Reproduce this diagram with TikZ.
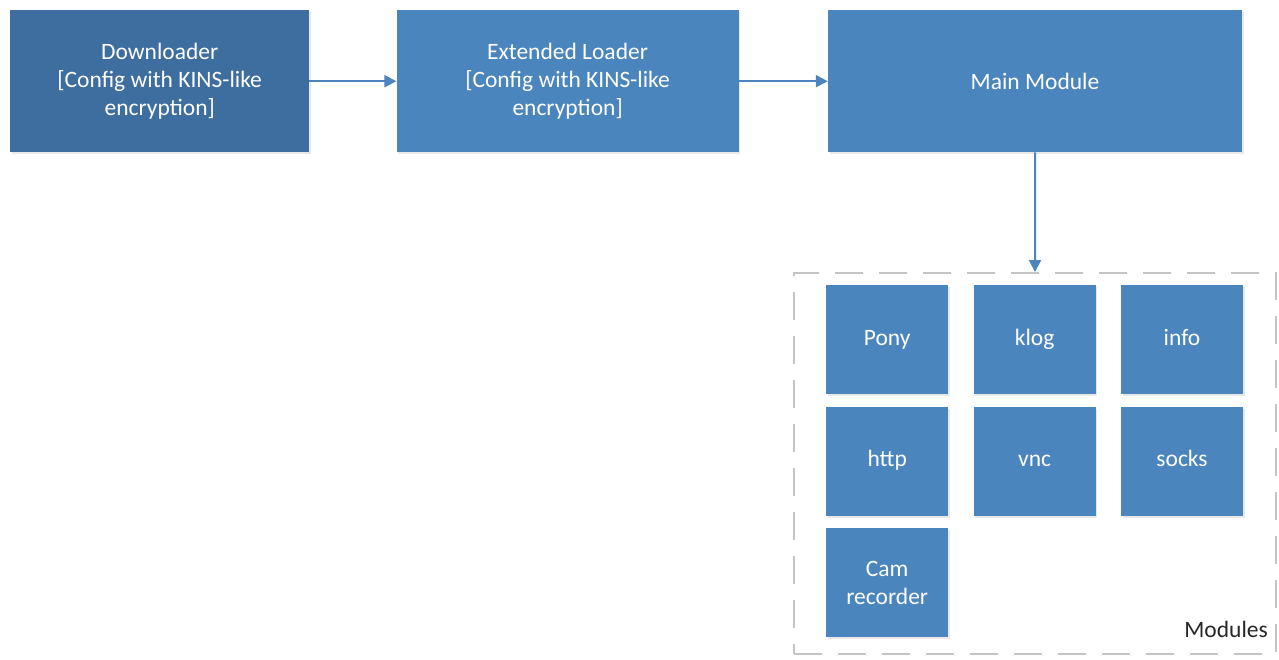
\documentclass[tikz,border=0pt]{standalone}
\usepackage{fontspec}
\setmainfont{Carlito}
\usepackage{xcolor}
\usetikzlibrary{positioning, arrows.meta, shadows, calc}
\definecolor{stageblue}{HTML}{4A85BD}
\definecolor{stagedark}{HTML}{3E6D9F}
\definecolor{framegray}{HTML}{C4C4C4}

\begin{document}
\begin{tikzpicture}[
    x=1pt, y=-1pt,
    node distance=88pt,
    >={Triangle[length=12pt,width=12pt]},
    stage/.style={rectangle, fill=stageblue, text=white, align=center, inner sep=0pt,
        minimum height=142pt, font=\fontsize{23.5}{28}\selectfont,
        drop shadow={opacity=0.18, shadow xshift=1.5pt, shadow yshift=-2pt}},
    module/.style={stage, minimum width=122pt, minimum height=109pt},
    oneline/.style={text height=13pt, text depth=2pt},
    link/.style={->, draw=stageblue, line width=2pt}
]
    \useasboundingbox (0,0) rectangle (1279,659);

    % --- top row of stages ---
    \node (downloader) [stage, fill=stagedark, minimum width=299pt, anchor=north west] at (10,10)
        {Downloader\\{[}Config with KINS-like\\encryption{]}};
    \node (extloader) [stage, minimum width=342pt, right=87pt of downloader]
        {Extended Loader\\{[}Config with KINS-like\\encryption{]}};
    \node (mainmod) [stage, minimum width=414pt, right=89pt of extloader] {Main Module};

    % --- modules container ---
    \node (modframe) [draw=framegray, line width=2pt, dash pattern=on 28pt off 16pt,
        minimum width=482pt, minimum height=381pt, inner sep=0pt, anchor=north west] at (793,272) {};
    \node (modlabel) [anchor=base east, inner sep=0pt, text=black!85, font=\fontsize{23.5}{28}\selectfont]
        at ($(modframe.south east)+(-9,-18)$) {Modules};

    % --- module grid ---
    \node (pony) [module, oneline, anchor=north west] at (826,285) {Pony};
    \node (klog) [module, oneline, right=25pt of pony] {klog};
    \node (info) [module, oneline, right=25pt of klog] {info};
    \node (http) [module, oneline, below=12pt of pony] {http};
    \node (vnc) [module, oneline, right=25pt of http] {vnc};
    \node (socks) [module, oneline, right=25pt of vnc] {socks};
    \node (camrec) [module, below=12pt of http] {Cam\\recorder};

    % --- connectors ---
    \draw[link] (downloader) -- (extloader);
    \draw[link] (extloader) -- (mainmod);
    \draw[link] (mainmod) -- (modframe);
\end{tikzpicture}
\end{document}
